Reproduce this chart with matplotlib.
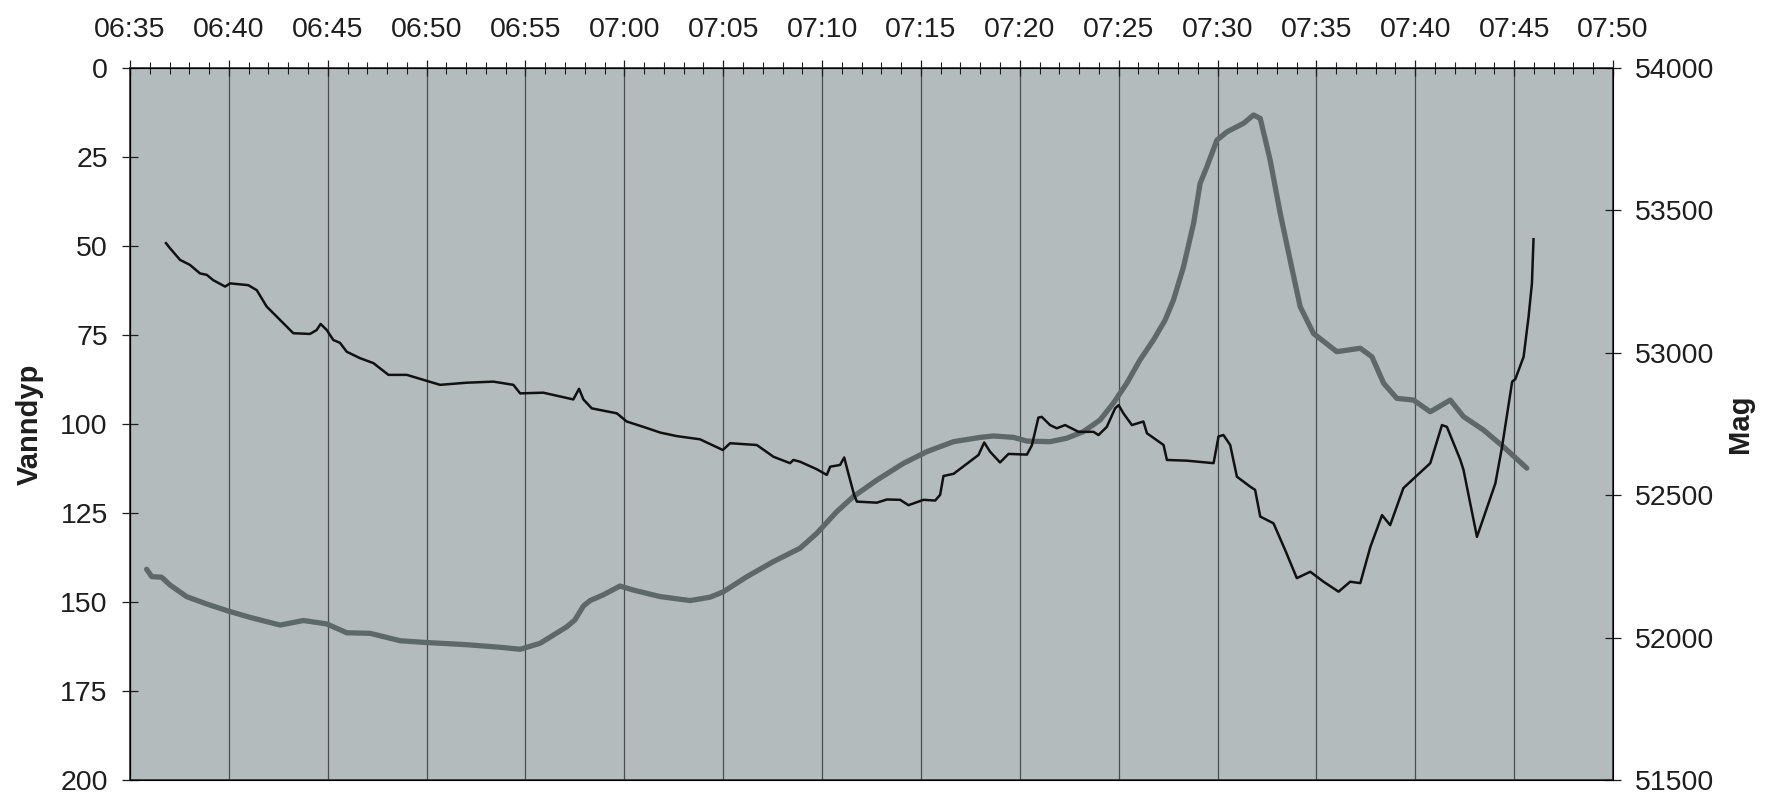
import numpy as np
import matplotlib
matplotlib.use("Agg")
from matplotlib import pyplot as plt
from matplotlib.ticker import MultipleLocator

plt.rcParams['font.family'] = ['Liberation Sans', 'DejaVu Sans']

# minutes after 06:35
depth_t = [1.82, 2.02, 2.53, 3.03, 3.54, 3.88, 4.21, 4.81, 5.06, 5.98, 6.41, 6.91,
           7.59, 8.26, 9.1, 9.44, 9.64, 9.95, 10.28, 10.62, 10.96, 11.63, 12.31,
           13.07, 14.0, 14.84, 15.68, 17.03, 18.38, 19.39, 19.73, 20.9, 22.42,
           22.71, 22.93, 23.35, 24.62, 25.12, 25.96, 26.81, 27.65, 28.83, 29.17,
           29.98, 30.35, 31.7, 32.54, 33.38, 33.55, 33.89, 34.73, 35.24, 35.41,
           35.91, 36.12, 36.33, 36.62, 36.76, 37.77, 38.28, 38.95, 39.37, 40.13,
           40.72, 40.97, 41.14, 41.65, 42.32, 42.91, 43.2, 43.5, 44.0, 44.43,
           45.36, 45.61, 45.94, 46.11, 46.53, 46.87, 47.29, 47.97, 48.73, 48.98,
           49.4, 49.82, 50.0, 50.24, 50.67, 51.25, 51.43, 52.27, 52.44, 53.45,
           54.8, 55.05, 55.3, 55.64, 55.98, 56.65, 56.9, 57.16, 57.83, 58.42,
           59.01, 59.69, 60.36, 61.12, 61.71, 62.22, 62.73, 63.32, 63.73, 64.4,
           65.25, 65.76, 66.35, 66.6, 67.28, 67.44, 68.12, 69.05, 69.39, 69.9,
           70.06, 70.48, 70.73, 70.9, 70.98]
depth = [49.2, 50.6, 53.9, 55.3, 57.7, 58.1, 59.6, 61.4, 60.5, 61.0, 62.4, 67.0,
         70.8, 74.5, 74.7, 73.6, 71.9, 73.6, 76.4, 77.2, 79.7, 81.5, 82.9,
         86.2, 86.2, 87.6, 89.0, 88.4, 88.1, 89.0, 91.4, 91.2, 93.1,
         90.1, 93.1, 95.6, 97.0, 99.3, 100.8, 102.4, 103.4, 104.3, 105.2,
         107.3, 105.4, 105.9, 109.2, 111.0, 110.1, 110.6, 112.7, 114.3, 112.0,
         111.5, 109.4, 113.9, 119.9, 121.8, 122.1, 121.2, 121.3, 122.8, 121.3,
         121.5, 119.9, 114.6, 114.0, 111.2, 108.7, 105.2, 107.8, 110.8, 108.4,
         108.6, 106.0, 98.2, 98.0, 100.3, 101.2, 100.3, 102.2, 102.2, 103.1,
         100.8, 95.6, 94.7, 97.0, 100.3, 99.3, 102.6, 105.9, 110.1, 110.3,
         111.0, 103.5, 103.1, 105.9, 114.8, 117.6, 118.5, 126.0, 127.9, 135.4,
         143.3, 141.5, 144.3, 147.1, 144.3, 144.7, 134.5, 125.6, 128.4, 118.0,
         113.6, 111.0, 100.3, 100.8, 110.1, 112.9, 131.7, 116.7, 106.4, 88.1,
         87.4, 81.1, 69.9, 60.5, 48.1]

mag_t = [0.84, 1.1, 1.6, 2.02, 2.86, 3.88, 4.89, 6.07, 7.59, 8.77, 9.95, 10.96,
         12.14, 13.66, 14.92, 17.03, 18.72, 19.73, 20.74, 22.09, 22.5, 22.93,
         23.27, 23.93, 24.78, 25.45, 26.81, 28.33, 29.34, 30.01, 31.2, 32.54,
         33.89, 34.73, 35.74, 36.58, 37.77, 39.12, 40.3, 41.65, 43.0, 43.67,
         44.68, 45.36, 46.53, 47.37, 48.21, 49.06, 49.73, 50.41, 51.08, 51.76,
         52.35, 52.77, 53.28, 53.79, 54.12, 54.46, 54.97, 55.48, 56.32, 56.82,
         57.16, 57.66, 58.17, 58.67, 59.18, 59.85, 61.03, 62.22, 62.81, 63.4,
         64.07, 64.91, 65.76, 66.77, 67.44, 68.45, 69.46, 70.64]
mag = [52240, 52214, 52212, 52185, 52144, 52118, 52095, 52071, 52044, 52060, 52048, 52017,
       52015, 51989, 51983, 51975, 51966, 51959, 51980, 52038, 52062, 52111,
       52130, 52150, 52181, 52167, 52144, 52130, 52142, 52161, 52214, 52267,
       52314, 52366, 52442, 52495, 52553, 52612, 52653, 52688, 52703, 52708,
       52703, 52690, 52688, 52700, 52723, 52764, 52823, 52893, 52975, 53045,
       53115, 53185, 53302, 53455, 53595, 53653, 53747, 53776, 53806, 53835,
       53823, 53677, 53490, 53326, 53162, 53068, 53004, 53016, 52986, 52893,
       52840, 52834, 52793, 52834, 52776, 52729, 52670, 52595]

time_labels = ['06:35', '06:40', '06:45', '06:50', '06:55', '07:00', '07:05', '07:10',
               '07:15', '07:20', '07:25', '07:30', '07:35', '07:40', '07:45', '07:50']

W, H = 1766, 799
fig = plt.figure(figsize=(W / 100, H / 100), dpi=100)
fig.patch.set_facecolor('white')
ax = fig.add_axes([130 / W, 1 - 780 / H, 1483 / W, 712 / H])
ax.set_facecolor('#b4bbbd')

fs = 20.5
tcol = '#1e1e1e'

ax.set_xlim(0, 75)
ax.set_ylim(200, 0)
ax.xaxis.tick_top()
ax.set_xticks(np.arange(0, 76, 5))
ax.set_xticklabels(time_labels)
ax.xaxis.set_minor_locator(MultipleLocator(1))
ax.yaxis.set_major_locator(MultipleLocator(25))
ax.grid(axis='x', which='major', color='#4a4e50', lw=0.9)
ax.tick_params(axis='x', which='major', direction='inout', length=12, width=0.9,
               labelsize=fs, pad=12, colors=tcol)
ax.tick_params(axis='x', which='minor', direction='inout', length=8, width=0.8, color=tcol)
ax.tick_params(axis='y', direction='inout', length=12, width=0.9, labelsize=fs, pad=10,
               colors=tcol)
for s in ax.spines.values():
    s.set_color('#2a2a2a')
    s.set_linewidth(1.2)
ax.set_ylabel('Vanndyp', fontsize=21, fontweight='bold', color=tcol, labelpad=12)

ax2 = ax.twinx()
ax2.set_ylim(51500, 54000)
ax2.yaxis.set_major_locator(MultipleLocator(500))
ax2.tick_params(axis='y', direction='inout', length=12, width=0.9, labelsize=fs, pad=10,
                colors=tcol)
ax2.set_ylabel('Mag', fontsize=21, fontweight='bold', color=tcol, labelpad=8)

ax2.plot(mag_t, mag, color='#5f6868', lw=3.8, solid_capstyle='round', solid_joinstyle='round')
# depth line on top of the mag line
ax2.plot(depth_t, depth, color='#111111', lw=1.8, transform=ax.transData,
         solid_joinstyle='round')
ax2.set_ylim(51500, 54000)

fig.savefig('out.png', dpi=100)
